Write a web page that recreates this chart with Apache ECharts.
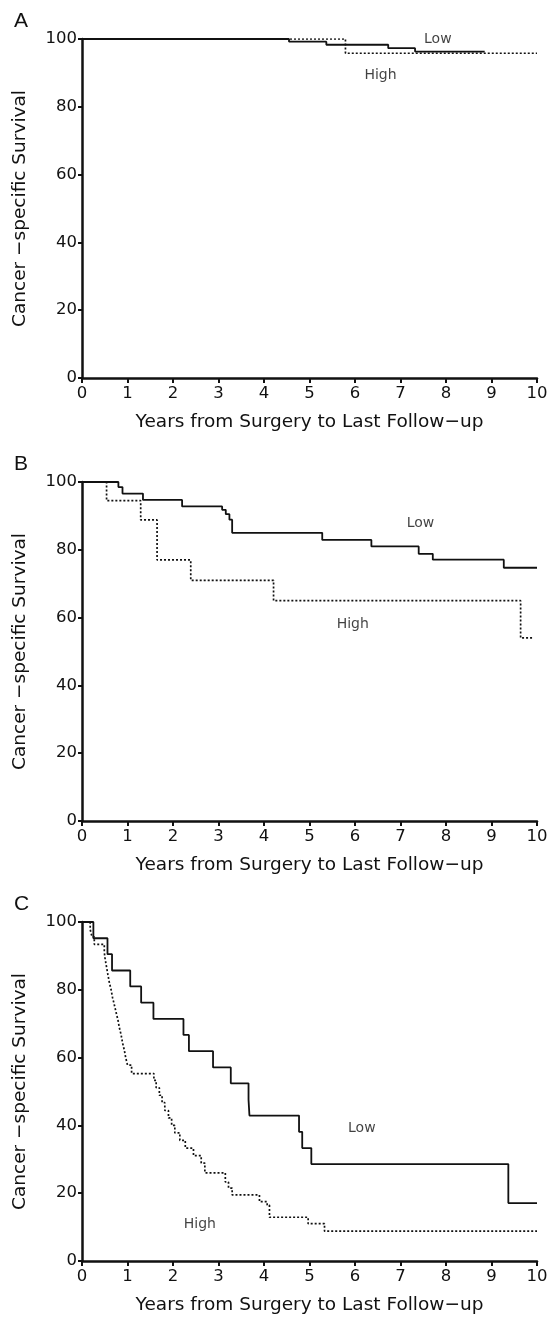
<!DOCTYPE html>
<html><head><meta charset="utf-8">
<script src="https://cdn.jsdelivr.net/npm/echarts@6/dist/echarts.min.js"></script>
<style>html,body{margin:0;padding:0;background:#fff}#c{width:551px;height:1330px}</style>
</head><body><div id="c"></div>
<script>
// ---- data ----
const panels = ['A', 'B', 'C'];
const xTicks = [0,1,2,3,4,5,6,7,8,9,10];
const yTicks = [0,20,40,60,80,100];
const xTitle = 'Years from Surgery to Last Follow\u2212up';
const yTitle = 'Cancer \u2212specific Survival';

const A_low_t  = [0, 4.55, 5.37, 6.73, 7.32, 8.85];
const A_low_s  = [100, 99.2, 98.3, 97.3, 96.3, 96.3];
const A_high_t = [0, 5.79, 10];
const A_high_s = [100, 95.8, 95.8];

const B_low_t  = [0, 0.80, 0.89, 1.34, 2.20, 3.08, 3.16, 3.24, 3.30, 5.28, 6.36, 7.40, 7.71, 9.27, 10];
const B_low_s  = [100, 98.5, 96.6, 94.7, 92.8, 91.8, 90.5, 88.9, 85.0, 82.9, 81.0, 78.8, 77.1, 74.7, 74.7];
const B_high_t = [0, 0.54, 1.29, 1.65, 2.39, 4.21, 9.64, 9.9];
const B_high_s = [100, 94.5, 88.8, 77.0, 71.0, 65.0, 54.0, 54.0];

const C_low_t  = [0, 0.25, 0.56, 0.66, 1.06, 1.30, 1.57, 2.23, 2.35, 2.88, 3.27, 3.66, 3.68, 4.77, 4.84, 5.04, 9.37, 10];
const C_low_s  = [100, 95.2, 90.5, 85.7, 81.0, 76.2, 71.4, 66.7, 61.9, 57.1, 52.4, 47.6, 42.9, 38.1, 33.3, 28.6, 17.1, 17.1];
const C_high_t = [0, 0.18, 0.22, 0.27, 0.49, 0.51, 0.54, 0.57, 0.60, 0.64, 0.67, 0.71, 0.75, 0.79, 0.82, 0.86, 0.89, 0.93, 0.96, 1.00, 1.09,
                  1.58, 1.63, 1.70, 1.76, 1.82, 1.90, 1.97, 2.04, 2.15, 2.27, 2.45, 2.62, 2.70, 3.15, 3.22, 3.30, 3.90, 4.07, 4.12, 4.97, 5.33, 10];
const C_high_s = [100, 97.8, 95.6, 93.4, 91.1, 88.9, 86.7, 84.4, 82.2, 80.0, 77.8, 75.6, 73.3, 71.1, 68.9, 66.7, 64.4, 62.2, 60.0, 57.8, 55.3,
                  53.3, 51.1, 48.9, 46.7, 44.4, 42.2, 40.0, 37.8, 35.6, 33.3, 31.1, 28.9, 26.0, 23.3, 21.5, 19.5, 17.5, 16.5, 12.9, 11.0, 8.8, 8.8];

// group labels: [year, survival]
const lowLabelPos  = [[7.82, 100.0], [7.44, 87.8], [6.15, 39.1]];
const highLabelPos = [[6.56, 89.2], [5.95, 57.9], [2.59, 10.9]];

const curves = [
  {low: [A_low_t, A_low_s], high: [A_high_t, A_high_s]},
  {low: [B_low_t, B_low_s], high: [B_high_t, B_high_s]},
  {low: [C_low_t, C_low_s], high: [C_high_t, C_high_s]}
];

// ---- layout ----
const gridTops = [39, 482, 922];
const gridH = 339;
const FONT = 'DejaVu Sans, Liberation Sans, sans-serif';
const ink = '#111';

const zip = (t, s) => t.map((v, i) => [v, s[i]]);

const grids = [], xAxes = [], yAxes = [], series = [], graphics = [];
panels.forEach((p, i) => {
  grids.push({left: 82, right: 14, top: gridTops[i], height: gridH});
  xAxes.push({
    type: 'value', gridIndex: i, min: 0, max: 10, interval: 1,
    name: xTitle, nameLocation: 'middle', nameGap: 35,
    nameTextStyle: {fontFamily: FONT, fontSize: 18.5, color: ink},
    axisLine: {lineStyle: {color: ink, width: 2.5}},
    axisTick: {length: 5, lineStyle: {color: ink, width: 2}},
    axisLabel: {fontFamily: FONT, fontSize: 16.5, color: ink, margin: 7},
    splitLine: {show: false}
  });
  yAxes.push({
    type: 'value', gridIndex: i, min: 0, max: 100, interval: 20,
    name: yTitle, nameLocation: 'middle', nameGap: 52,
    nameTextStyle: {fontFamily: FONT, fontSize: 18.5, color: ink},
    axisLine: {show: true, lineStyle: {color: ink, width: 2.5}},
    axisTick: {show: true, length: 4, lineStyle: {color: ink, width: 2}},
    axisLabel: {fontFamily: FONT, fontSize: 16.5, color: ink, margin: 5},
    splitLine: {show: false}
  });
  series.push({
    type: 'line', xAxisIndex: i, yAxisIndex: i, step: 'end', symbol: 'none',
    data: zip(curves[i].high[0], curves[i].high[1]),
    lineStyle: {color: ink, width: 1.7, type: [2, 2]}, z: 3, silent: true
  });
  series.push({
    type: 'line', xAxisIndex: i, yAxisIndex: i, step: 'end', symbol: 'none',
    data: zip(curves[i].low[0], curves[i].low[1]),
    lineStyle: {color: ink, width: 1.8}, z: 4, silent: true
  });
  series.push({
    type: 'scatter', xAxisIndex: i, yAxisIndex: i, symbolSize: 0, silent: true, clip: false,
    data: [[lowLabelPos[i][0], lowLabelPos[i][1], 'Low'], [highLabelPos[i][0], highLabelPos[i][1], 'High']],
    label: {show: true, position: 'inside', formatter: d => d.data[2],
            fontFamily: FONT, fontSize: 14, color: ink}
  });
  graphics.push({type: 'text', left: 14, top: gridTops[i] - 28,
    style: {text: p, font: '21px Liberation Sans, Arial, sans-serif', fill: ink}});
});

const chart = echarts.init(document.getElementById('c'), null, {renderer: 'canvas'});
chart.setOption({
  animation: false, backgroundColor: '#fff',
  grid: grids, xAxis: xAxes, yAxis: yAxes, series: series, graphic: graphics
});
</script></body></html>
